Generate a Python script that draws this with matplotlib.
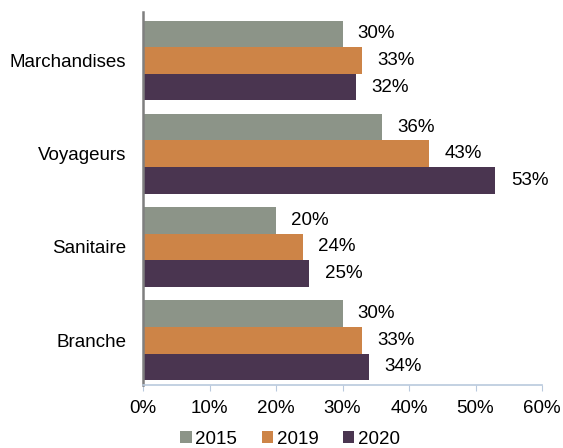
import numpy as np
import matplotlib.pyplot as plt
from matplotlib.ticker import FuncFormatter

plt.rcParams['font.family'] = ['Liberation Sans', 'DejaVu Sans']

categories = ["Branche", "Sanitaire", "Voyageurs", "Marchandises"]
years = ["2015", "2019", "2020"]
v2015 = [30, 20, 36, 30]
v2019 = [33, 24, 43, 33]
v2020 = [34, 25, 53, 32]
colors = ["#8C9488", "#CD8447", "#4A3550"]

fs = 13.5

fig = plt.figure(figsize=(5.63, 4.48), dpi=100)
ax = fig.add_axes([143 / 563, 1 - 385 / 448, (542 - 143) / 563, (385 - 12) / 448])

y = np.arange(len(categories))
h = 0.285
for i, (vals, col, lab) in enumerate(zip([v2015, v2019, v2020], colors, years)):
    pos = y + (1 - i) * h
    ax.barh(pos, vals, height=h, color=col, label=lab)
    for p, v in zip(pos, vals):
        ax.annotate(f"{v}%", (v, p), xytext=(11, 0), textcoords="offset points",
                    ha="left", va="center", fontsize=fs, color="black")

ax.set_xlim(0, 60)
ax.set_ylim(-0.48, 3.52)
ax.set_xticks(range(0, 61, 10))
ax.xaxis.set_major_formatter(FuncFormatter(lambda v, _: f"{v:.0f}%"))
ax.set_yticks(y)
ax.set_yticklabels(categories)
ax.tick_params(axis="y", length=0, pad=12, labelsize=fs)
ax.tick_params(axis="x", length=4, color="#B9C9DD", labelsize=fs, pad=7)

for s in ["top", "right"]:
    ax.spines[s].set_visible(False)
ax.spines["left"].set_color("#7F7F7F")
ax.spines["left"].set_linewidth(1.8)
ax.spines["bottom"].set_color("#B9C9DD")
ax.spines["bottom"].set_linewidth(1.2)

ax.legend(loc="center", bbox_to_anchor=(290 / 563, 1 - 439 / 448), bbox_transform=fig.transFigure,
          ncol=3, frameon=False, fontsize=fs, handlelength=0.6, handleheight=0.6,
          handletextpad=0.2, columnspacing=1.3)

fig.savefig("out.png", dpi=100)
